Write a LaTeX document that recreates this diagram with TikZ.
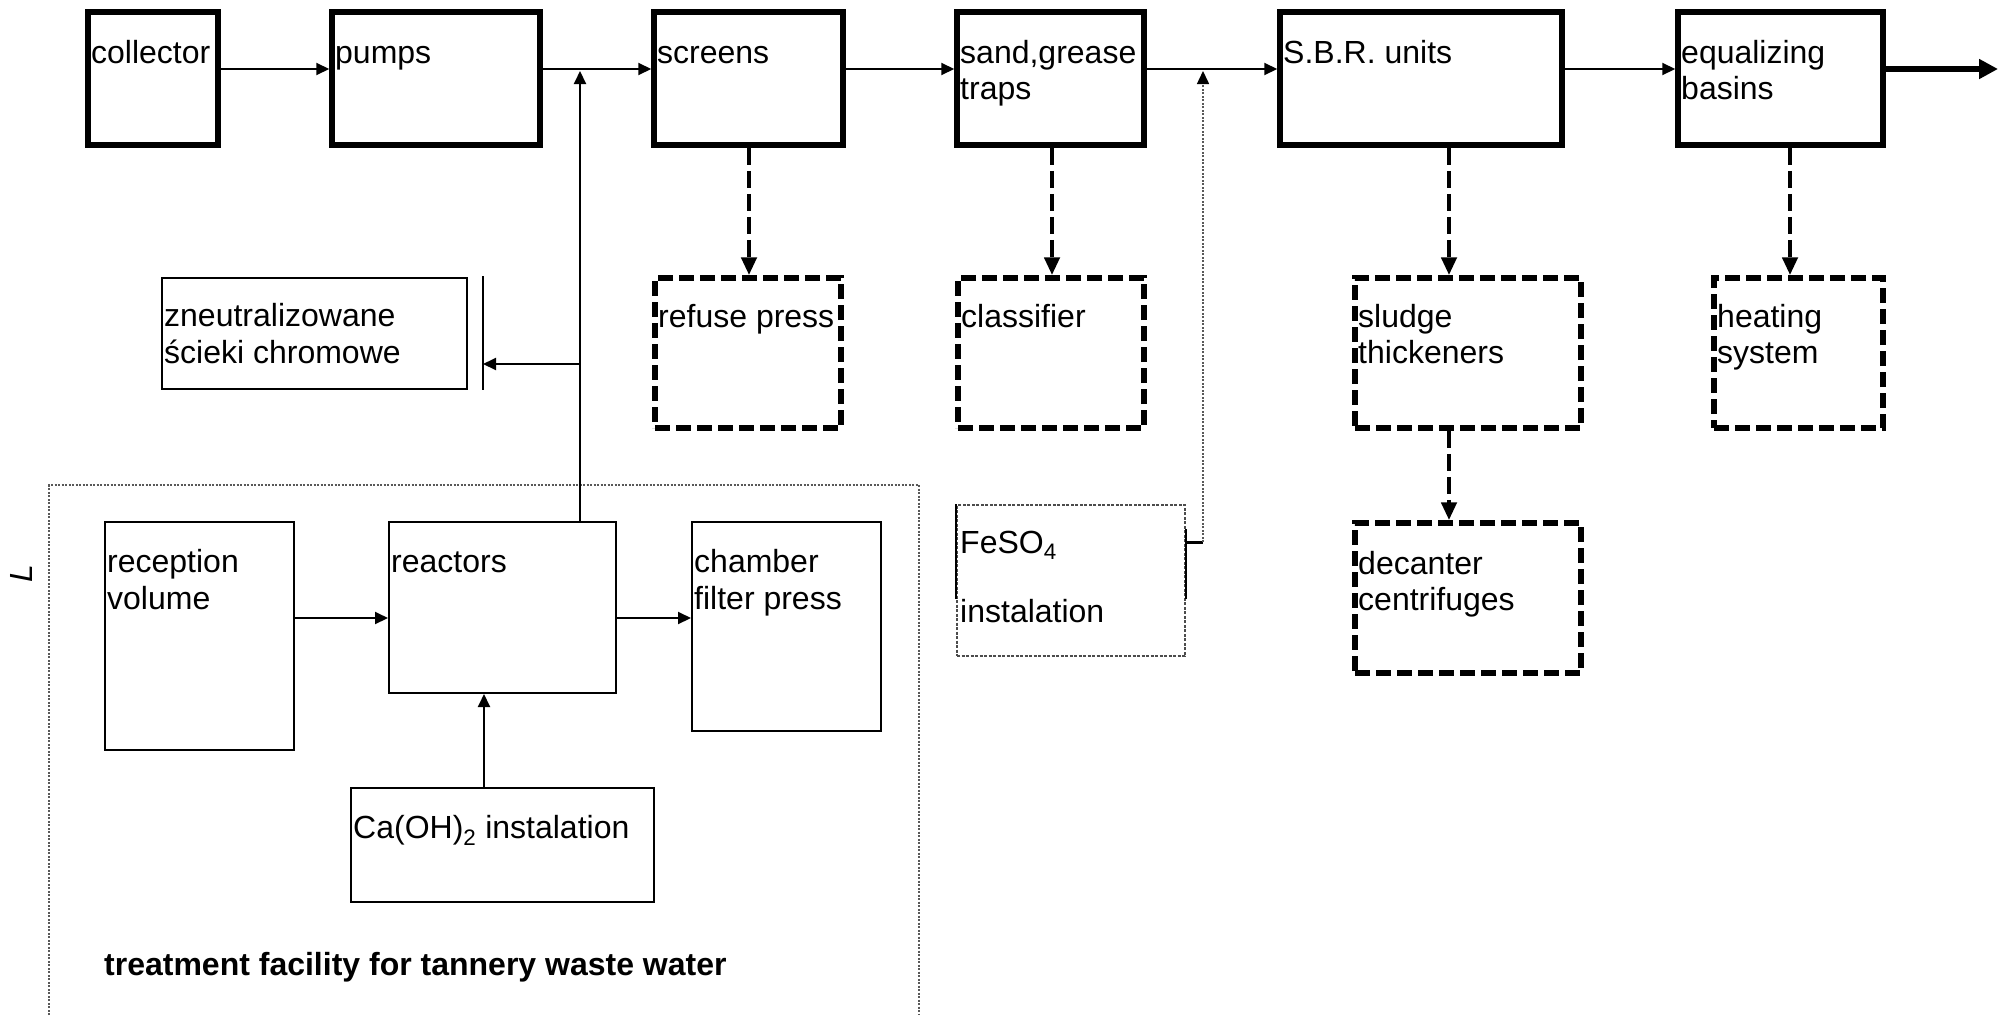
\documentclass[tikz,border=0pt]{standalone}
\usepackage{fontspec}
\setmainfont{Liberation Sans}
\usetikzlibrary{arrows.meta}
\tikzset{
 thickbox/.style={draw, line width=5.5pt, inner sep=0pt},
 dashbox/.style={draw, line width=5.5pt, dash pattern=on 15pt off 6pt, inner sep=0pt},
 thinbox/.style={draw, line width=2pt, inner sep=0pt},
 feso/.style={draw=black!70, line width=1.5pt, dash pattern=on 3pt off 1.5pt, inner sep=0pt},
 txt/.style={anchor=base west, inner sep=0pt, font=\fontsize{32}{37}\selectfont},
 flow/.style={line width=2pt, -{Triangle[length=13pt,width=12pt]}},
 sludgeflow/.style={line width=4.5pt, dash pattern=on 17pt off 6pt, -{Triangle[length=18pt,width=15pt]}},
 outflow/.style={line width=6pt, -{Triangle[length=19pt,width=19pt]}},
 dotline/.style={draw=black!65, line width=1.5pt, dash pattern=on 2pt off 1.5pt},
 thinline/.style={line width=2pt}
}
\newcommand\pbox[6]{\node[#1, minimum width={#4-#2}, minimum height={#5-#3}] (#6) at ({(#2+#4)/2},{(#3+#5)/2}) {};}
\begin{document}
\begin{tikzpicture}[x=1pt,y=-1pt]
\useasboundingbox[fill=white] (0,0) rectangle (2004,1015);
% main line boxes
\pbox{thickbox}{88}{12}{218}{145}{collector}
\pbox{thickbox}{332}{12}{540}{145}{pumps}
\pbox{thickbox}{654}{12}{843}{145}{screens}
\pbox{thickbox}{957}{12}{1144}{145}{traps}
\pbox{thickbox}{1280}{12}{1562}{145}{sbr}
\pbox{thickbox}{1678}{12}{1883}{145}{eq}
% dashed boxes
\pbox{dashbox}{655}{278}{841}{428}{refuse}
\pbox{dashbox}{958}{278}{1144}{428}{classifier}
\pbox{dashbox}{1355}{278}{1581}{428}{sludge}
\pbox{dashbox}{1714}{278}{1883}{428}{heating}
\pbox{dashbox}{1355}{523}{1581}{673}{decanter}
% thin boxes
\pbox{thinbox}{162}{278}{467}{389}{zneut}
\pbox{thinbox}{105}{522}{294}{750}{reception}
\pbox{thinbox}{389}{522}{616}{693}{reactors}
\pbox{thinbox}{692}{522}{881}{731}{chamber}
\pbox{thinbox}{351}{788}{654}{902}{caoh}
\pbox{feso}{957}{505}{1185}{656}{feso4}
\draw[thinline] (feso4.north west) -- ++(0,95);
\draw[thinline] (feso4.north east) ++(0,25) -- ++(0,70);
% texts
\node[txt] (t-collector) at (91,63) {collector};
\node[txt] (t-pumps) at (335,63) {pumps};
\node[txt] (t-screens) at (657,63) {screens};
\node[txt] (t-traps1) at (960,63) {sand,grease};
\node[txt] (t-traps2) at (960,99) {traps};
\node[txt] (t-sbr) at (1283,63) {S.B.R. units};
\node[txt] (t-eq1) at (1681,63) {equalizing};
\node[txt] (t-eq2) at (1681,99) {basins};
\node[txt] (t-refuse) at (658,327) {refuse press};
\node[txt] (t-classifier) at (961,327) {classifier};
\node[txt] (t-sludge1) at (1358,327) {sludge};
\node[txt] (t-sludge2) at (1358,363) {thickeners};
\node[txt] (t-heating1) at (1717,327) {heating};
\node[txt] (t-heating2) at (1717,363) {system};
\node[txt] (t-decanter1) at (1358,574) {decanter};
\node[txt] (t-decanter2) at (1358,610) {centrifuges};
\node[txt] (t-zneut1) at (164,326) {zneutralizowane};
\node[txt] (t-zneut2) at (164,363) {ścieki chromowe};
\node[txt] (t-reception1) at (107,572) {reception};
\node[txt] (t-reception2) at (107,609) {volume};
\node[txt] (t-reactors) at (391,572) {reactors};
\node[txt] (t-chamber1) at (694,572) {chamber};
\node[txt] (t-chamber2) at (694,609) {filter press};
\node[txt] (t-caoh) at (353,838) {Ca(OH)\textsubscript{2} instalation};
\node[txt] (t-feso1) at (960,553) {FeSO\textsubscript{4}};
\node[txt] (t-feso2) at (960,622) {instalation};
\node[txt, font=\fontsize{32}{37}\selectfont\bfseries] (t-facility) at (104,975) {treatment facility for tannery waste water};
\node[inner sep=0pt, rotate=90, font=\fontsize{32}{37}\selectfont\itshape] (t-L) at (21,574) {L};
% facility frame
\draw[dotline] (49,1015) -- (49,485) -- (919,485) -- (919,1015);
% coordinates
\coordinate (my) at (0,69);
\coordinate (j1) at (580,71);
\coordinate (j2) at (580,364);
\coordinate (bartop) at (483,276);
\coordinate (barbot) at (483,390);
\coordinate (fecorner) at (1203,542);
\coordinate (fetop) at (1203,71);
\coordinate (out) at (1998,69);
\coordinate (cax) at (484,0);
\coordinate (sbrx) at (1449,0);
\coordinate (eqx) at (1790,0);
\coordinate (rfx) at (749,0);
\coordinate (clx) at (1052,0);
\coordinate (mly) at (0,618);
% main flow
\draw[flow] (collector.east |- my) -- (pumps.west |- my);
\draw[flow] (pumps.east |- my) -- (screens.west |- my);
\draw[flow] (screens.east |- my) -- (traps.west |- my);
\draw[flow] (traps.east |- my) -- (sbr.west |- my);
\draw[flow] (sbr.east |- my) -- (eq.west |- my);
\draw[outflow] (eq.east |- my) -- (out);
% sludge lines
\draw[sludgeflow] (screens.south -| rfx) -- (refuse.north -| rfx);
\draw[sludgeflow] (traps.south -| clx) -- (classifier.north -| clx);
\draw[sludgeflow] (sbr.south -| sbrx) -- (sludge.north -| sbrx);
\draw[sludgeflow] (eq.south -| eqx) -- (heating.north -| eqx);
\draw[sludgeflow] (sludge.south -| sbrx) -- (decanter.north -| sbrx);
% chromium branch
\draw[flow] (reactors.north -| j1) -- (j1);
\draw[flow] (j2) -- (bartop |- j2);
\draw[thinline] (bartop) -- (barbot);
\draw[flow] (reception.east |- mly) -- (reactors.west |- mly);
\draw[flow] (reactors.east |- mly) -- (chamber.west |- mly);
\draw[flow] (caoh.north -| cax) -- (reactors.south -| cax);
% FeSO4 dosing
\draw[line width=3pt] (feso4.east |- fecorner) -- (fecorner);
\draw[dotline, -{Triangle[length=13pt,width=12pt,black]}] (fecorner) -- (fetop);
\end{tikzpicture}
\end{document}
